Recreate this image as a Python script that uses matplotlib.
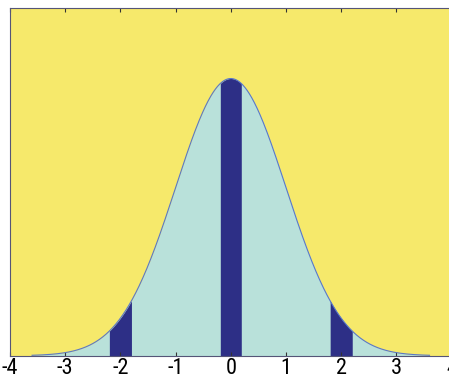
import numpy as np
import matplotlib.pyplot as plt

x_min, x_max = -4, 4
curve_lo, curve_hi = -3.6, 3.6
bands = [(-2.2, -1.8), (-0.2, 0.2), (1.8, 2.2)]
xticks = [-4, -3, -2, -1, 0, 1, 2, 3, 4]

x = np.linspace(curve_lo, curve_hi, 721)
y = np.exp(-x ** 2 / 2) / np.sqrt(2 * np.pi)

fig = plt.figure(figsize=(4.49, 3.79), dpi=100)
ax = fig.add_axes([10 / 449, 1 - 355.7 / 379, 441.6 / 449, 347.4 / 379])
ax.set_facecolor('#F6E96B')

ax.fill_between(x, y, color='#B9E1DA', linewidth=0)
for lo, hi in bands:
    m = (x >= lo) & (x <= hi)
    ax.fill_between(x[m], y[m], color='#2D2F86', linewidth=0)
ax.plot(x, y, color='#5a78c8', linewidth=0.8)

ax.set_xlim(x_min, x_max)
ax.set_ylim(0, 0.5)
ax.set_xticks(xticks)
ax.set_xticklabels([str(t) for t in xticks])
ax.set_yticks([])
ax.tick_params(axis='x', direction='in', top=True, length=3, width=0.8,
               color='#333333', labelsize=16, pad=2)
for lab in ax.get_xticklabels():
    lab.set_family(['Liberation Sans Narrow', 'Roboto Condensed', 'DejaVu Sans'])
for s in ax.spines.values():
    s.set_color('#555577')
    s.set_linewidth(0.8)

fig.savefig('out.png', dpi=100)
